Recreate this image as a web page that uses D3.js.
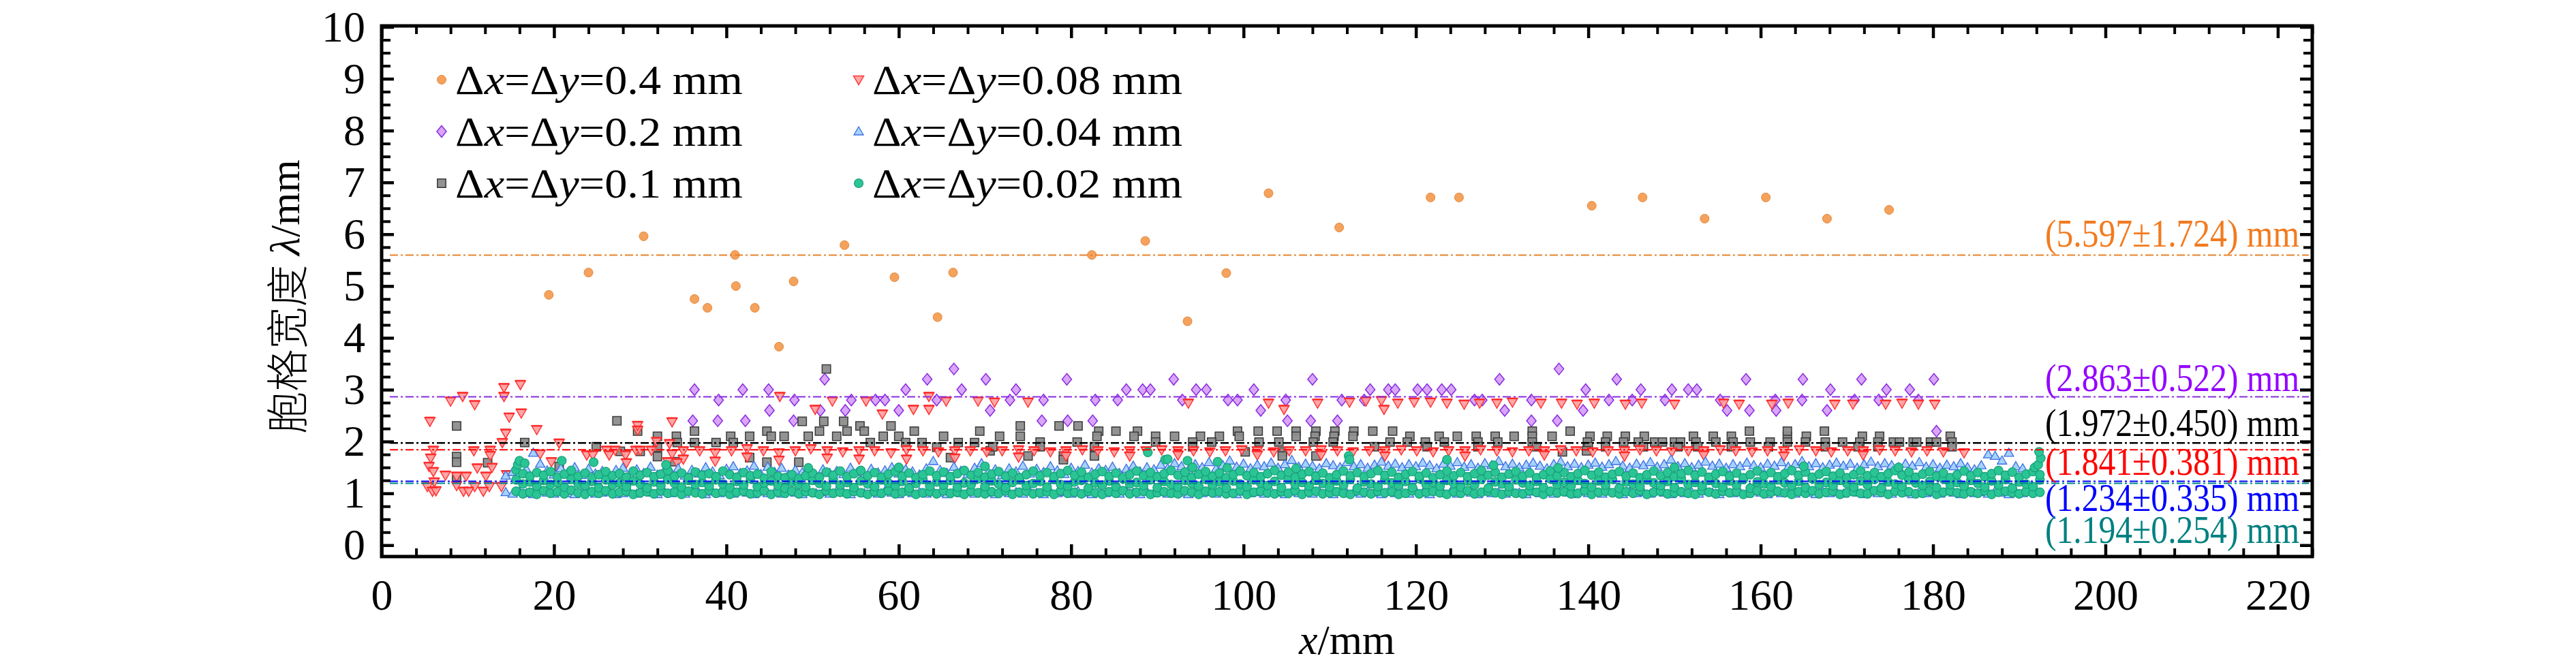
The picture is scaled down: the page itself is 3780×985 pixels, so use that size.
<!DOCTYPE html>
<html><head><meta charset="utf-8">
<script src="https://cdn.jsdelivr.net/npm/d3@7"></script>
<style>
html,body{margin:0;padding:0;background:#fff;}
svg{display:block;}
text{font-family:"Liberation Serif","Times New Roman",serif;}
</style></head><body>
<svg id="chart" width="3780" height="985"></svg>
<script>
// ---------------- DATA ----------------
const seriesLabels = ["0.4", "0.2", "0.1", "0.08", "0.04", "0.02"];
const meanValues = [5.597, 2.863, 1.972, 1.841, 1.234, 1.194];
const sdValues = [1.724, 0.522, 0.450, 0.381, 0.335, 0.254];
const xTickLabels = [0, 20, 40, 60, 80, 100, 120, 140, 160, 180, 200, 220];
const yTickLabels = [0, 1, 2, 3, 4, 5, 6, 7, 8, 9, 10];

// Δx=Δy=0.4 mm
const d04 = [[19.4,4.83],[24.0,5.26],[30.4,5.96],[36.3,4.75],[37.8,4.58],[41.0,5.60],[41.1,5.00],[43.3,4.58],[46.1,3.83],[47.8,5.09],[53.7,5.79],[59.5,5.17],[64.5,4.40],[66.3,5.26],[82.4,5.60],[88.6,5.87],[93.5,4.32],[98.0,5.25],[102.9,6.79],[111.1,6.13],[121.7,6.71],[125.0,6.71],[140.4,6.55],[146.3,6.71],[153.5,6.30],[160.6,6.71],[167.7,6.30],[174.9,6.47]];

// Δx=Δy=0.2 mm
const d02 = [[36.3,3.0],[39.1,2.8],[36.1,2.4],[39.0,2.4],[41.9,3.0],[42.2,2.4],[44.9,3.0],[45.0,2.6],[47.9,2.8],[47.8,2.4],[51.4,3.2],[50.9,2.6],[53.8,2.6],[54.5,2.8],[57.3,2.8],[58.4,2.8],[60.0,2.6],[60.8,3.0],[63.3,3.2],[64.4,2.8],[66.4,3.4],[67.3,3.0],[70.1,3.2],[70.6,2.6],
[73.6,3.0],[72.9,2.8],[76.6,2.4],[76.8,2.8],[79.5,3.2],[79.6,2.4],[82.5,2.4],[82.8,2.8],[85.4,2.8],[86.4,3.0],[88.3,3.0],[89.2,3.0],[91.9,3.2],[92.9,2.8],[94.5,3.0],[95.7,3.0],[98.2,2.8],[99.3,2.8],[101.2,3.0],[102.0,2.6],[104.9,2.8],[105.1,2.4],[108.0,3.2],[107.8,2.4],[110.9,2.4],[111.4,2.8],[114.0,2.8],[114.7,3.0],[116.8,3.0],[117.6,3.0],[120.2,3.0],[121.3,3.0],[123.0,3.0],[124.1,3.0],[126.8,2.8],[127.7,2.8],[129.7,3.2],[130.3,2.6],[133.4,2.8],[133.4,2.4],[136.4,2.4],[136.6,3.4],[139.7,3.0],[139.4,2.6],
[143.3,3.2],[142.4,2.8],[145.1,2.8],[146.1,3.0],[148.9,2.8],[149.7,3.0],[151.6,3.0],[152.6,3.0],[155.3,2.8],[156.1,2.6],[158.3,3.2],[158.7,2.6],[161.7,2.8],[161.8,2.6],[164.8,2.8],[164.9,3.2],[167.7,2.6],[168.1,3.0],[170.9,2.8],[171.7,3.2],[173.7,2.8],[174.6,3.0],[177.3,3.0],[178.3,2.8],[180.1,3.2],[180.4,2.2]];

// Δx=Δy=0.1 mm
const d01 = [[8.7,2.30],[8.7,1.71],[8.7,1.60],[8.7,1.27],[12.3,1.59],[16.6,1.98],[20.6,1.52],[24.9,1.90],[27.3,2.40],[27.7,1.81],[29.7,2.20],[30.0,1.81],[32.0,2.10],[32.0,1.89],[32.0,1.71],[34.2,2.10],[34.3,1.98],[34.0,1.61],[36.3,2.20],[36.3,1.98],[38.8,1.98],[40.5,2.10],[40.8,1.98],[42.7,2.10],[42.7,1.69],[44.7,2.20],[45.2,2.10],[44.7,1.60],[46.7,2.10],[48.8,2.39],[48.4,1.60],[49.5,2.10],[50.8,2.20],[51.6,3.40],[51.3,2.39],[52.8,2.10],[53.6,2.39],[54.0,2.20],[55.5,2.30],[56.0,2.20],[56.7,1.98],[58.2,2.10],[59.1,2.30],[60.0,2.10],[60.8,1.98],[61.8,2.20],[62.7,1.98],[64.4,1.89],[65.2,2.10],[66.0,1.69],[66.9,1.98],[69.4,2.20],[68.8,1.98],[70.6,1.82],
[74.1,2.30],[78.6,2.30],[80.8,2.30],[83.2,2.20],[85.2,2.20],[87.7,2.20],[99.3,2.20],[101.7,2.20],[103.9,2.20],[106.1,2.20],[108.4,2.20],[110.6,2.20],[112.8,2.20],[115.0,2.20],[117.3,2.20],[133.5,2.20],[137.9,2.20],
[71.7,2.10],[74.1,2.10],[83.0,2.10],[87.3,2.10],[89.8,2.10],[92.0,2.10],[95.0,2.10],[97.2,2.10],[99.5,2.10],[106.1,2.10],[108.3,2.10],[110.5,2.10],[112.7,2.10],[119.3,2.10],[122.7,2.10],[124.8,2.10],[127.0,2.10],[129.2,2.10],[131.4,2.10],[133.5,2.10],[135.8,2.10],[140.2,2.10],
[76.4,1.99],[80.7,1.99],[89.8,1.99],[94.1,1.99],[96.3,1.99],[101.8,1.99],[104.1,1.99],[108.1,1.99],[110.4,1.99],[117.0,1.99],[119.0,1.99],[121.1,1.99],[123.3,1.99],[127.2,1.99],[129.5,1.99],[133.5,1.99],[139.9,1.99],
[70.9,1.90],[76.4,1.90],[82.7,1.90],[94.1,1.90],[115.2,1.90],[121.3,1.90],[127.2,1.90],[134.0,1.90],
[100.2,1.80],[104.5,1.80],[137.0,1.80],[75.0,1.72],[79.1,1.72],[82.7,1.72],[104.5,1.72],[108.4,1.72],[79.1,1.65],
[142.2,2.10],[144.3,2.10],[146.5,2.10],[152.2,2.10],[154.5,2.10],[156.6,2.10],[163.1,2.10],[165.3,2.10],[171.8,2.10],[173.8,2.10],[182.0,2.10],
[158.7,2.20],[163.1,2.20],[167.4,2.20],
[142.0,1.99],[144.1,1.99],[145.8,1.99],[147.7,1.99],[148.6,1.99],[150.0,1.99],[150.7,1.99],[152.5,1.99],[154.8,1.99],[156.8,1.99],[158.8,1.99],[161.1,1.99],[163.1,1.99],[165.2,1.99],[167.5,1.99],[169.5,1.99],[171.5,1.99],[173.6,1.99],[175.4,1.99],[176.1,1.99],[177.7,1.99],[178.1,1.99],[179.7,1.99],[180.4,1.99],[182.2,1.99],
[140.0,1.90],[142.0,1.90],[146.4,1.90],[150.4,1.90],[152.7,1.90],[156.6,1.90],[160.9,1.90],[167.5,1.90],[171.3,1.90],[173.6,1.90],[182.2,1.90],[139.8,1.82]];

// Δx=Δy=0.08 mm
const d008 = [[5.6,2.39],[8.0,2.78],[9.4,2.87],[10.8,2.71],[14.2,3.04],[14.2,2.87],[16.1,3.10],[14.8,2.47],[16.2,2.55],[14.4,2.16],[14.0,1.98],[18.0,2.23],[6.0,1.83],[5.7,1.68],[5.5,1.52],[6.0,1.42],[7.4,1.35],[6.1,1.22],[5.3,1.13],[5.9,1.04],[6.3,1.05],[8.7,1.33],[9.8,1.33],[8.7,1.15],[9.5,1.04],[10.1,1.04],[10.8,1.13],[10.7,1.82],[11.1,1.49],[11.8,1.04],[12.5,1.13],[12.1,1.33],[12.6,1.83],[12.6,1.73],[12.8,1.50],[13.9,1.13],[14.5,1.36],[18.4,1.76],[20.6,1.97],[19.7,1.61],[23.8,1.74],[24.5,1.74],[26.1,1.83],[26.4,1.74],[27.1,1.83],[28.3,1.74],[28.4,1.59],[29.7,2.22],[29.7,2.31],[29.5,1.83],[30.0,1.83],[31.3,1.83],[31.9,2.00],[33.7,2.38],[33.7,1.76],[33.2,1.61],[34.3,1.59],[33.4,1.96],
[35.0,1.82],[35.0,1.66],[36.9,1.82],[38.7,1.78],[38.7,1.62],[40.6,1.82],[42.4,1.86],[42.4,1.70],[44.3,1.82],[46.1,1.78],[46.1,1.64],[48.0,1.82],[49.8,1.86],[51.7,1.82],[51.7,1.68],[53.5,1.80],[55.4,1.82],[55.4,1.66],[57.2,1.82],[59.1,1.78],[60.9,1.84],[60.9,1.66],[62.8,1.82],[64.6,1.80],[66.5,1.82],[66.5,1.68],[68.3,1.82],[70.2,1.80],[72.0,1.82],[73.9,1.84],[73.9,1.70],[75.7,1.82],[77.6,1.80],[79.4,1.82],[79.4,1.72],[81.3,1.84],[83.1,1.82],[85.0,1.80],[86.8,1.82],[86.8,1.72],[88.7,1.82],[90.5,1.84],[92.4,1.82],[92.4,1.74],[94.2,1.82],[96.1,1.80],[97.9,1.82],[99.8,1.84],[101.6,1.82],[101.6,1.74],[103.5,1.80],[105.3,1.82],[107.2,1.82],[109.0,1.84],[109.0,1.74],[110.9,1.82],[112.7,1.80],[114.6,1.82],[116.4,1.82],[116.4,1.72],[118.3,1.84],[120.1,1.82],[122.0,1.80],[123.8,1.82],[125.7,1.82],[125.7,1.72],[127.5,1.84],[129.4,1.82],[131.2,1.80],[133.1,1.82],[134.9,1.82],[134.9,1.74],[136.8,1.84],[138.6,1.82],[140.5,1.80],[142.3,1.82],[144.2,1.82],[144.2,1.72],[146.0,1.84],[147.9,1.82],[149.7,1.80],[151.6,1.82],[153.4,1.82],[153.4,1.74],[155.3,1.84],[157.1,1.82],[159.0,1.80],[160.8,1.82],[162.7,1.82],[162.7,1.72],[164.5,1.84],[166.4,1.82],[168.2,1.80],[170.1,1.82],[171.9,1.82],[171.9,1.74],[173.8,1.84],[175.6,1.82],[177.5,1.80],[179.3,1.82],[181.2,1.80],[183.6,1.78],
[46.2,2.87],[50.3,2.62],[52.3,2.78],[56.2,2.78],[58.1,2.53],[61.7,2.62],[63.5,2.62],[63.5,2.87],[65.5,2.78],[69.2,2.78],[71.1,2.76],[75.0,2.76],[93.6,2.74],[102.9,2.74],[104.7,2.62],[108.6,2.74],[112.3,2.76],[114.2,2.78],[116.0,2.79],[116.3,2.62],[117.9,2.74],[119.8,2.76],[121.7,2.76],[123.6,2.74],[125.6,2.72],[127.4,2.74],[129.4,2.74],[131.2,2.76],[134.5,2.74],[136.9,2.74],[138.7,2.72],[140.7,2.74],[144.3,2.72],[146.2,2.74],[150.0,2.72],[155.7,2.74],[157.5,2.72],[161.3,2.72],[163.2,2.74],[168.6,2.72],[170.7,2.72],[174.5,2.72],[176.4,2.74],[178.3,2.72],[180.2,2.72]];

// Δx=Δy=0.04 mm  rows: [x, lower value, upper value]
const d004Rows = [[14.4,1.02,1.34],[15.2,0.99,1.41],[16.0,1.03,1.38],[16.8,1.00,1.46],[17.6,0.98,1.78],[18.4,1.04,1.57],[19.2,1.01,1.44],[20.0,0.99,1.36],[20.8,1.03,1.48],[21.6,1.00,1.40],[22.4,0.98,1.50],[23.2,1.02,1.35],[24.0,1.04,1.47],[24.8,0.99,1.38],[25.6,1.01,1.43],[26.4,1.03,1.33],[27.2,0.98,1.45],[28.0,1.00,1.49],[28.8,1.02,1.37],[29.6,0.99,1.46],[30.4,1.04,1.39],[31.2,1.01,1.51],[32.0,0.98,1.36],[32.8,1.03,1.44],[33.6,1.00,1.40],[34.4,1.02,1.48],[35.2,0.99,1.34],[36.0,1.04,1.45],[36.8,1.01,1.38],[37.6,0.98,1.50],[38.4,1.03,1.42],[39.2,1.00,1.35],[40.0,1.02,1.47],[40.8,0.99,1.52],[41.6,1.04,1.39],[42.4,1.01,1.44],[43.2,0.98,1.53],[44.0,1.03,1.37],[44.8,1.00,1.51],[45.6,1.02,1.41],[46.4,0.99,1.49],[47.2,1.04,1.36],[48.0,1.01,1.45],[48.8,0.98,1.40],[49.6,1.03,1.48],[50.4,1.00,1.34],[51.2,1.02,1.46],[52.0,0.99,1.39],[52.8,1.04,1.43],[53.6,1.01,1.37],[54.4,0.98,1.49],[55.2,1.03,1.41],[56.0,1.00,1.35],[56.8,1.02,1.47],[57.6,0.99,1.40],[58.4,1.04,1.44],[59.2,1.01,1.50],[60.0,0.98,1.38],[60.8,1.03,1.46],[61.6,1.00,1.42],[62.4,1.02,1.36],[63.2,0.99,1.48],[64.0,1.04,1.62],[64.8,1.01,1.45],[65.6,0.98,1.39],[66.4,1.03,1.51],[67.2,1.00,1.43],[68.0,1.02,1.37],[68.8,0.99,1.49],[69.6,1.04,1.58],[70.4,1.01,1.41],[71.2,0.98,1.46],[72.0,1.03,1.35],[72.8,1.00,1.48],[73.6,1.02,1.42],[74.4,0.99,1.53],[75.2,1.04,1.38],[76.0,1.01,1.47],[76.8,0.98,1.41],[77.6,1.03,1.52],[78.4,1.00,1.44],[79.2,1.02,1.37],[80.0,0.99,1.49],[80.8,1.04,1.43],[81.6,1.01,1.55],[82.4,0.98,1.40],[83.2,1.03,1.48],[84.0,1.00,1.45],[84.8,1.02,1.51],[85.6,0.99,1.39],[86.4,1.04,1.47],[87.2,1.01,1.53],[88.0,0.98,1.42],[88.8,1.03,1.50],[89.6,1.00,1.46],[90.4,1.02,1.55],[91.2,0.99,1.48],[92.0,1.04,1.58],[92.8,1.01,1.52],[93.6,0.98,1.45],[94.4,1.03,1.56],[95.2,1.00,1.50],[96.0,1.02,1.60],[96.8,0.99,1.47],[97.6,1.04,1.54],[98.4,1.01,1.63],[99.2,0.98,1.51],[100.0,1.03,1.57],[100.8,1.00,1.48],[101.6,1.02,1.55],[102.4,0.99,1.52],[103.2,1.04,1.59],[104.0,1.01,1.49],[104.8,0.98,1.56],[105.6,1.03,1.64],[106.4,1.00,1.51],[107.2,1.02,1.57],[108.0,0.99,1.53],[108.8,1.04,1.48],[109.6,1.01,1.58],[110.4,0.98,1.54],[111.2,1.03,1.50],[112.0,1.00,1.60],[112.8,1.02,1.52],[113.6,0.99,1.56],[114.4,1.04,1.49],[115.2,1.01,1.55],[116.0,0.98,1.61],[116.8,1.03,1.53],[117.6,1.00,1.57],[118.4,1.02,1.50],[119.2,0.99,1.56],[120.0,1.04,1.52],[120.8,1.01,1.59],[121.6,0.98,1.54],[122.4,1.03,1.48],[123.2,1.00,1.57],[124.0,1.02,1.53],[124.8,0.99,1.60],[125.6,1.04,1.51],[126.4,1.01,1.56],[127.2,0.98,1.49],[128.0,1.03,1.58],[128.8,1.00,1.54],[129.6,1.02,1.62],[130.4,0.99,1.52],[131.2,1.04,1.57],[132.0,1.01,1.50],[132.8,0.98,1.55],[133.6,1.03,1.59],[134.4,1.00,1.53],[135.2,1.02,1.48],[136.0,0.99,1.56],[136.8,1.04,1.61],[137.6,1.01,1.52],[138.4,0.98,1.57],[139.2,1.03,1.50],[140.0,1.00,1.55],[140.8,1.02,1.59],[141.6,0.99,1.51],[142.4,1.04,1.56],[143.2,1.01,1.62],[144.0,0.98,1.53],[144.8,1.03,1.49],[145.6,1.00,1.57],[146.4,1.02,1.54],[147.2,0.99,1.60],[148.0,1.04,1.51],[148.8,1.01,1.56],[149.6,0.98,1.65],[150.4,1.03,1.52],[151.2,1.00,1.58],[152.0,1.02,1.50],[152.8,0.99,1.55],[153.6,1.04,1.61],[154.4,1.01,1.53],[155.2,0.98,1.57],[156.0,1.03,1.49],[156.8,1.00,1.56],[157.6,1.02,1.52],[158.4,0.99,1.59],[159.2,1.04,1.54],[160.0,1.01,1.50],[160.8,0.98,1.57],[161.6,1.03,1.53],[162.4,1.00,1.60],[163.2,1.02,1.51],[164.0,0.99,1.56],[164.8,1.04,1.62],[165.6,1.01,1.52],[166.4,0.98,1.58],[167.2,1.03,1.50],[168.0,1.00,1.55],[168.8,1.02,1.59],[169.6,0.99,1.53],[170.4,1.04,1.57],[171.2,1.01,1.49],[172.0,0.98,1.56],[172.8,1.03,1.61],[173.6,1.00,1.52],[174.4,1.02,1.58],[175.2,0.99,1.54],[176.0,1.04,1.50],[176.8,1.01,1.57],[177.6,0.98,1.53],[178.4,1.03,1.60],[179.2,1.00,1.51],[180.0,1.02,1.56],[180.8,0.99,1.49],[181.6,1.04,1.55],[182.4,1.01,1.52],[183.2,0.98,1.58],[184.0,1.03,1.50],[184.8,1.00,1.46],[185.6,1.02,1.54],[186.4,0.99,1.75],[187.2,1.04,1.72],[188.0,1.01,1.63],[188.8,0.98,1.78],[189.6,1.03,1.52],[190.4,1.00,1.48]];

// Δx=Δy=0.02 mm  rows: [x, low, middle, high]
const d002Rows = [[15.6,1.04,1.26,1.45],[16.4,0.99,1.18,1.38],[17.2,1.02,1.22,1.33],[18.0,0.98,1.14,1.40],[18.8,1.05,1.25,1.35],[19.6,1.00,1.17,1.42],[20.4,1.03,1.21,1.31],[21.2,0.99,1.12,1.37],[22.0,1.06,1.27,1.44],[22.8,1.01,1.19,1.33],[23.6,0.98,1.15,1.39],[24.4,1.03,1.23,1.30],[25.2,1.00,1.11,1.36],[26.0,1.05,1.26,1.42],[26.8,0.99,1.16,1.34],[27.6,1.02,1.20,1.38],[28.4,1.04,1.13,1.31],[29.2,0.98,1.24,1.43],[30.0,1.01,1.18,1.35],[30.8,1.03,1.10,1.40],[31.6,0.99,1.22,1.32],[32.4,1.05,1.15,1.37],[33.2,1.00,1.27,1.44],[34.0,1.02,1.19,1.33],[34.8,0.98,1.12,1.39],[35.6,1.04,1.25,1.30],[36.4,1.01,1.17,1.41],[37.2,0.99,1.21,1.35],[38.0,1.06,1.14,1.38],[38.8,1.00,1.26,1.32],[39.6,1.03,1.18,1.43],[40.4,0.98,1.11,1.36],[41.2,1.02,1.23,1.31],[42.0,1.04,1.16,1.40],[42.8,0.99,1.28,1.34],[43.6,1.01,1.13,1.37],[44.4,1.05,1.20,1.29],[45.2,0.98,1.24,1.42],[46.0,1.02,1.15,1.33],[46.8,1.00,1.10,1.30],[47.6,1.04,1.22,1.36],[48.4,0.99,1.17,1.28],[49.2,1.03,1.12,1.34],[50.0,1.01,1.25,1.39],[50.8,0.98,1.19,1.31],[51.6,1.05,1.14,1.41],[52.4,1.00,1.27,1.35],[53.2,1.02,1.16,1.43],[54.0,0.99,1.21,1.32],[54.8,1.04,1.11,1.38],[55.6,1.01,1.24,1.44],[56.4,0.98,1.18,1.34],[57.2,1.03,1.13,1.40],[58.0,1.00,1.26,1.31],[58.8,1.05,1.20,1.37],[59.6,0.99,1.15,1.42],[60.4,1.02,1.23,1.33],[61.2,1.04,1.10,1.39],[62.0,0.98,1.19,1.30],[62.8,1.01,1.27,1.36],[63.6,1.03,1.14,1.43],[64.4,0.99,1.22,1.34],[65.2,1.05,1.16,1.41],[66.0,1.00,1.25,1.32],[66.8,1.02,1.12,1.38],[67.6,0.98,1.20,1.44],[68.4,1.04,1.17,1.35],[69.2,1.01,1.28,1.40],[70.0,0.99,1.13,1.31],[70.8,1.03,1.24,1.37],[71.6,1.00,1.18,1.42],[72.4,1.05,1.11,1.33],[73.2,0.98,1.21,1.39],[74.0,1.02,1.26,1.30],[74.8,1.04,1.15,1.36],[75.6,0.99,1.19,1.43],[76.4,1.01,1.23,1.34],[77.2,1.03,1.12,1.40],[78.0,0.98,1.27,1.32],[78.8,1.05,1.17,1.38],[79.6,1.00,1.14,1.44],[80.4,1.02,1.22,1.35],[81.2,0.99,1.25,1.41],[82.0,1.04,1.10,1.31],[82.8,1.01,1.20,1.37],[83.6,0.98,1.16,1.42],[84.4,1.03,1.24,1.33],[85.2,1.00,1.13,1.39],[86.0,1.05,1.28,1.30],[86.8,0.99,1.18,1.36],[87.6,1.02,1.21,1.43],[88.4,1.04,1.15,1.34],[89.2,0.98,1.26,1.40],[90.0,1.01,1.11,1.32],[90.8,1.03,1.23,1.38],[91.6,1.00,1.17,1.44],[92.4,0.99,1.12,1.35],[93.2,1.05,1.25,1.41],[94.0,1.02,1.19,1.31],[94.8,0.98,1.14,1.37],[95.6,1.04,1.27,1.42],[96.4,1.01,1.16,1.33],[97.2,1.03,1.22,1.39],[98.0,0.99,1.10,1.30],[98.8,1.00,1.24,1.36],[99.6,1.05,1.18,1.43],[100.4,0.98,1.13,1.34],[101.2,1.02,1.26,1.40],[102.0,1.04,1.20,1.32],[102.8,1.01,1.15,1.38],[103.6,0.99,1.23,1.44],[104.4,1.03,1.11,1.35],[105.2,1.00,1.28,1.41],[106.0,1.05,1.17,1.31],[106.8,0.98,1.21,1.37],[107.6,1.02,1.14,1.42],[108.4,1.04,1.25,1.33],[109.2,0.99,1.19,1.39],[110.0,1.01,1.12,1.30],[110.8,1.03,1.24,1.36],[111.6,1.00,1.16,1.43],[112.4,0.98,1.27,1.34],[113.2,1.05,1.10,1.40],[114.0,1.02,1.22,1.32],[114.8,0.99,1.18,1.38],[115.6,1.04,1.13,1.44],[116.4,1.01,1.26,1.35],[117.2,1.03,1.20,1.41],[118.0,0.98,1.15,1.31],[118.8,1.00,1.23,1.37],[119.6,1.05,1.11,1.42],[120.4,0.99,1.28,1.33],[121.2,1.02,1.17,1.39],[122.0,1.04,1.21,1.30],[122.8,1.01,1.14,1.36],[123.6,0.98,1.25,1.43],[124.4,1.03,1.19,1.34],[125.2,1.00,1.12,1.40],[126.0,1.05,1.24,1.32],[126.8,0.99,1.16,1.38],[127.6,1.02,1.27,1.44],[128.4,1.04,1.10,1.35],[129.2,1.01,1.22,1.41],[130.0,0.98,1.18,1.31],[130.8,1.03,1.13,1.37],[131.6,1.00,1.26,1.42],[132.4,0.99,1.20,1.33],[133.2,1.05,1.15,1.39],[134.0,1.02,1.23,1.30],[134.8,0.98,1.11,1.36],[135.6,1.04,1.28,1.43],[136.4,1.01,1.17,1.34],[137.2,1.03,1.21,1.40],[138.0,0.99,1.14,1.32],[138.8,1.00,1.25,1.38],[139.6,1.05,1.19,1.44],[140.4,0.98,1.12,1.35],[141.2,1.02,1.24,1.41],[142.0,1.04,1.16,1.31],[142.8,1.01,1.27,1.37],[143.6,0.99,1.10,1.42],[144.4,1.03,1.22,1.33],[145.2,1.00,1.18,1.39],[146.0,1.05,1.13,1.30],[146.8,0.98,1.26,1.36],[147.6,1.02,1.20,1.43],[148.4,1.04,1.15,1.34],[149.2,0.99,1.23,1.40],[150.0,1.01,1.11,1.32],[150.8,1.03,1.28,1.38],[151.6,1.00,1.17,1.44],[152.4,0.98,1.21,1.35],[153.2,1.05,1.14,1.41],[154.0,1.02,1.25,1.31],[154.8,0.99,1.19,1.37],[155.6,1.04,1.12,1.42],[156.4,1.01,1.24,1.33],[157.2,1.03,1.16,1.39],[158.0,0.98,1.27,1.30],[158.8,1.00,1.10,1.36],[159.6,1.05,1.22,1.43],[160.4,0.99,1.18,1.34],[161.2,1.02,1.13,1.40],[162.0,1.04,1.26,1.32],[162.8,1.01,1.20,1.38],[163.6,0.98,1.15,1.44],[164.4,1.03,1.23,1.35],[165.2,1.00,1.11,1.41],[166.0,1.05,1.28,1.31],[166.8,0.99,1.17,1.37],[167.6,1.02,1.21,1.42],[168.4,1.04,1.14,1.33],[169.2,0.98,1.25,1.39],[170.0,1.01,1.19,1.30],[170.8,1.03,1.12,1.36],[171.6,1.00,1.24,1.43],[172.4,0.99,1.16,1.34],[173.2,1.05,1.27,1.40],[174.0,1.02,1.10,1.32],[174.8,0.98,1.22,1.38],[175.6,1.04,1.18,1.44],[176.4,1.01,1.13,1.35],[177.2,1.03,1.26,1.41],[178.0,0.99,1.20,1.31],[178.8,1.00,1.15,1.37],[179.6,1.05,1.23,1.42],[180.4,0.98,1.11,1.33],[181.2,1.02,1.28,1.39],[182.0,1.04,1.17,1.30],[182.8,1.01,1.21,1.36],[183.6,0.99,1.14,1.43],[184.4,1.03,1.25,1.34],[185.2,1.00,1.19,1.40],[186.0,1.05,1.12,1.32],[186.8,0.98,1.24,1.38],[187.6,1.02,1.16,1.44],[188.4,1.04,1.27,1.35],[189.2,1.01,1.10,1.41],[190.0,0.99,1.22,1.31],[190.8,1.03,1.18,1.37],[191.6,1.00,1.13,1.42],[192.4,1.02,1.26,1.36]];
const d002High = [[15.8,1.55],[16.0,1.63],[16.6,1.58],[20.9,1.63],[24.6,1.60],[33.0,1.55],[49.5,1.49],[60.0,1.50],[70.0,1.52],[88.9,1.79],[90.9,1.65],[91.2,1.66],[93.5,1.63],[94.1,1.50],[97.0,1.61],[98.1,1.49],[106.1,1.48],[112.2,1.72],[112.3,1.65],[123.6,1.65],[129.0,1.54],[136.5,1.49],[150.0,1.50],[165.0,1.52],[176.0,1.50],[191.8,1.50],[192.2,1.55],[192.5,1.68],[192.3,1.80]];

// ---------------- CHART ----------------
const svg = d3.select('#chart');
const PL = 560, PR = 3393, PT = 38, PB = 817;
const x = d3.scaleLinear().domain([0, 224]).range([PL, PR]);
const y = d3.scaleLinear().domain([-0.22, 10.02]).range([PB, PT]);

const shapes = {
  circle: 'M6.5,0A6.5,6.5 0 1,1 -6.5,0A6.5,6.5 0 1,1 6.5,0Z',
  diamond: 'M0,-8.5L7,0L0,8.5L-7,0Z',
  square: 'M-6.2,-6.2H6.2V6.2H-6.2Z',
  down: 'M-7.5,-5.5H7.5L0,7.5Z',
  up: 'M0,-7L7,5H-7Z'
};
const styles = [
  {shape:'circle', fill:'#f5a25d', stroke:'#e3883c', sw:1, op:1},
  {shape:'diamond', fill:'#d8a6f6', stroke:'#8b2be2', sw:1.5, op:1},
  {shape:'square', fill:'#8d8d8d', stroke:'#3a3a3a', sw:1.5, op:0.95},
  {shape:'down', fill:'#ff9c9c', stroke:'#ff3434', sw:1.5, op:0.9},
  {shape:'up', fill:'#a6d1fa', stroke:'#3b6fe4', sw:1.3, op:1},
  {shape:'circle', fill:'#2ac495', stroke:'#17a078', sw:1.2, op:1}
];
const lineColors = ['#e8822a', '#8a2be2', '#000000', '#ff0000', '#0000ff', '#008b8b'];
const textColors = ['#f27b1f', '#9400ff', '#000000', '#ff0000', '#0000ff', '#008080'];
const labelDy = [-12, -8, -10, 37, 44, 88];

const blueFlat = d004Rows.flatMap(r => [[r[0], r[1]], [r[0], r[2]]]);
const tealFlat = d002Rows.flatMap(r => [[r[0], r[1]], [r[0], r[2]], [r[0], r[3]]]).concat(d002High);
const allSeries = [d04, d02, d01, d008, blueFlat, tealFlat];

const gData = svg.append('g');
allSeries.forEach((data, i) => {
  const st = styles[i];
  const g = gData.append('g');
  g.selectAll('path').data(data).enter().append('path')
    .attr('d', shapes[st.shape])
    .attr('transform', d => `translate(${x(d[0])},${y(d[1])})`)
    .attr('fill', st.fill).attr('fill-opacity', st.op)
    .attr('stroke', st.stroke).attr('stroke-width', st.sw);
  if (st.shape === 'down') {
    g.selectAll('line').data(data).enter().append('line')
      .attr('x1', d => x(d[0]) - 7.5).attr('x2', d => x(d[0]) + 7.5)
      .attr('y1', d => y(d[1]) - 5.5).attr('y2', d => y(d[1]) - 5.5)
      .attr('stroke', '#ff2a2a').attr('stroke-width', 2.5);
  }
});

// mean lines
const gMean = svg.append('g');
meanValues.forEach((m, i) => {
  gMean.append('line')
    .attr('x1', PL + 12).attr('x2', PR - 5)
    .attr('y1', y(m)).attr('y2', y(m))
    .attr('stroke', lineColors[i]).attr('stroke-width', i === 2 ? 2.6 : 2)
    .attr('stroke-dasharray', '12,4,3,4');
});

// annotations
meanValues.forEach((m, i) => {
  svg.append('text')
    .attr('x', 3001).attr('y', y(m) + labelDy[i])
    .attr('font-size', 58).attr('fill', textColors[i])
    .attr('textLength', 373).attr('lengthAdjust', 'spacingAndGlyphs')
    .text(`(${m.toFixed(3)}±${sdValues[i].toFixed(3)}) mm`);
});

// axes
const xMinor = d3.range(0, 225, 4).filter(v => v % 20 !== 0);
const yMinor = d3.range(-0.0, 10.01, 0.25).filter(v => Math.abs(v - Math.round(v)) > 0.01);
function styleAxis(g, w) {
  g.select('.domain').remove();
  g.selectAll('.tick line').attr('stroke', '#000').attr('stroke-width', w);
  g.selectAll('text').attr('font-family', '"Liberation Serif","Times New Roman",serif').attr('font-size', 64).attr('fill', '#000');
}
svg.append('g').attr('transform', `translate(0,${PB})`)
  .call(d3.axisBottom(x).tickValues(xTickLabels).tickSize(-18).tickPadding(33).tickFormat(d3.format('d')))
  .call(g => styleAxis(g, 4.5));
svg.append('g').attr('transform', `translate(0,${PB})`)
  .call(d3.axisBottom(x).tickValues(xMinor).tickSize(-12).tickFormat(''))
  .call(g => styleAxis(g, 4));
svg.append('g').attr('transform', `translate(0,${PT})`)
  .call(d3.axisTop(x).tickValues(xTickLabels).tickSize(-18).tickFormat(''))
  .call(g => styleAxis(g, 4.5));
svg.append('g').attr('transform', `translate(0,${PT})`)
  .call(d3.axisTop(x).tickValues(xMinor).tickSize(-12).tickFormat(''))
  .call(g => styleAxis(g, 4));
svg.append('g').attr('transform', `translate(${PL},0)`)
  .call(d3.axisLeft(y).tickValues(yTickLabels).tickSize(-18).tickPadding(24).tickFormat(d3.format('d')))
  .call(g => styleAxis(g, 4.5));
svg.append('g').attr('transform', `translate(${PL},0)`)
  .call(d3.axisLeft(y).tickValues(yMinor).tickSize(-13).tickFormat(''))
  .call(g => styleAxis(g, 4));
svg.append('g').attr('transform', `translate(${PR},0)`)
  .call(d3.axisRight(y).tickValues(yTickLabels).tickSize(-18).tickFormat(''))
  .call(g => styleAxis(g, 4.5));
svg.append('g').attr('transform', `translate(${PR},0)`)
  .call(d3.axisRight(y).tickValues(yMinor).tickSize(-13).tickFormat(''))
  .call(g => styleAxis(g, 4));

svg.append('rect').attr('x', PL).attr('y', PT).attr('width', PR - PL).attr('height', PB - PT)
  .attr('fill', 'none').attr('stroke', '#000').attr('stroke-width', 5);

// axis titles
const xt = svg.append('text').attr('x', (PL + PR) / 2).attr('y', 960)
  .attr('text-anchor', 'middle').attr('font-size', 62);
xt.append('tspan').attr('font-style', 'italic').text('x');
xt.append('tspan').text('/mm');

const yt = svg.append('text').attr('transform', `translate(418,${(PT + PB) / 2 + 8}) rotate(-90)`)
  .attr('text-anchor', 'middle').attr('dominant-baseline', 'central').attr('font-size', 62);
yt.append('tspan').attr('font-family', '"Noto Sans CJK SC",sans-serif').attr('font-weight', 300).text('胞格宽度 ');
yt.append('tspan').attr('font-style', 'italic').text('λ');
yt.append('tspan').text('/mm');

// legend
const legendPos = [[648, 138], [648, 214], [648, 290], [1260, 138], [1260, 214], [1260, 290]];
seriesLabels.forEach((lab, i) => {
  const [lx, ly] = legendPos[i];
  const st = styles[i];
  svg.append('path').attr('d', shapes[st.shape])
    .attr('transform', `translate(${lx},${ly - 21})`)
    .attr('fill', st.fill).attr('fill-opacity', st.op)
    .attr('stroke', st.stroke).attr('stroke-width', st.sw);
  const t = svg.append('text').attr('x', lx + 20).attr('y', ly).attr('font-size', 62)
    .attr('textLength', lab.length > 3 ? 455 : 422).attr('lengthAdjust', 'spacingAndGlyphs');
  t.append('tspan').text('Δ');
  t.append('tspan').attr('font-style', 'italic').text('x');
  t.append('tspan').text('=Δ');
  t.append('tspan').attr('font-style', 'italic').text('y');
  t.append('tspan').text(`=${lab} mm`);
});
</script></body></html>
